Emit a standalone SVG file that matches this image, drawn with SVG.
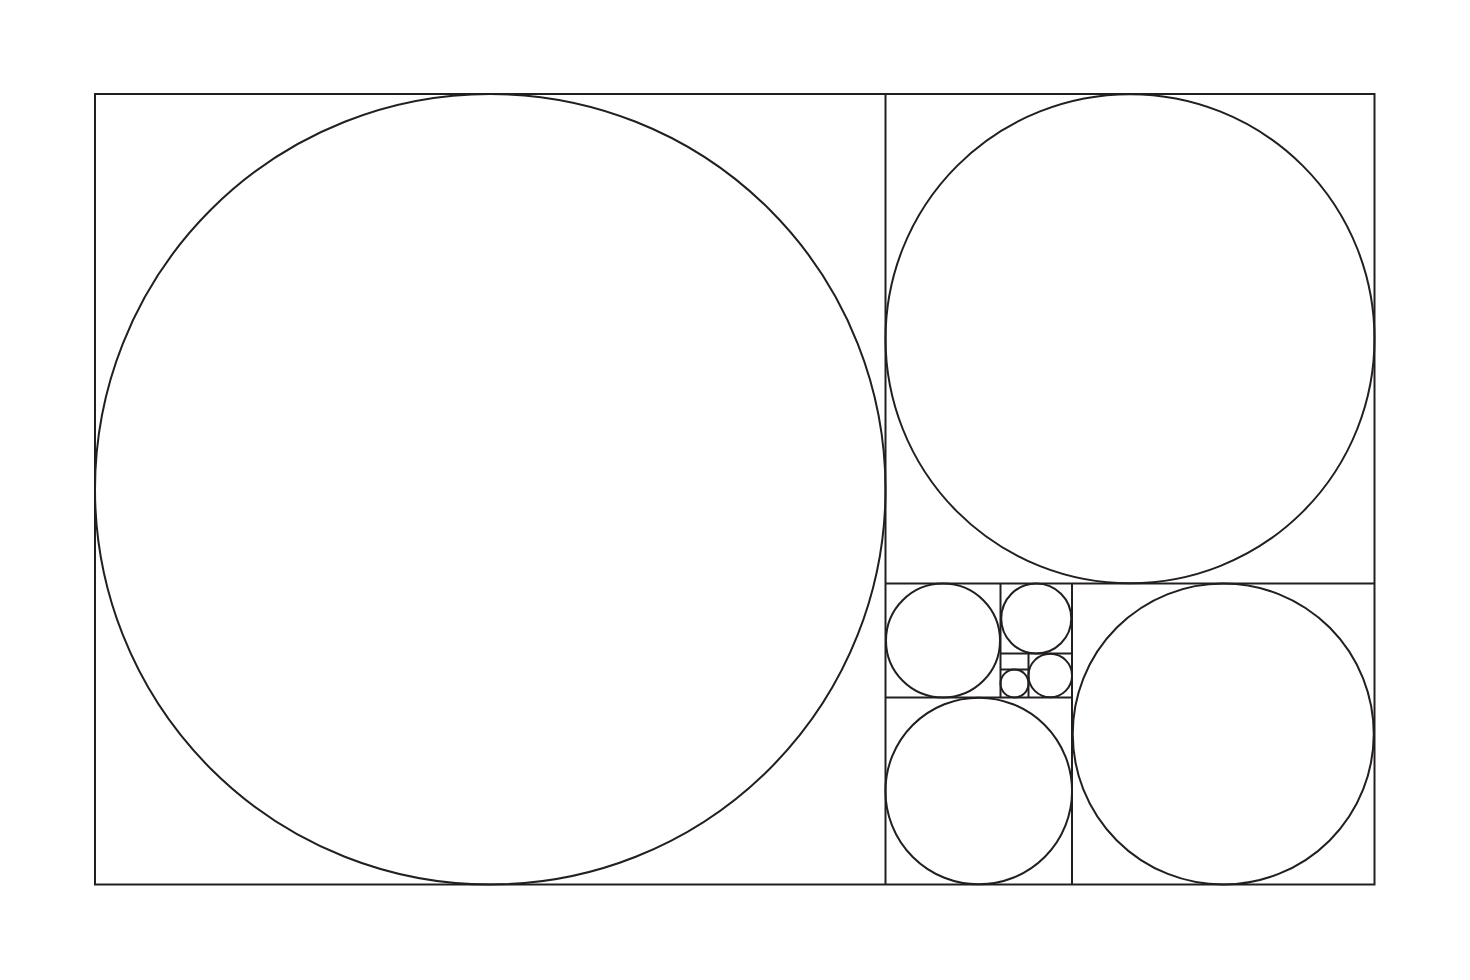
<svg xmlns="http://www.w3.org/2000/svg" width="1470" height="980" viewBox="0 0 1470 980">
<style>
.l{fill:none;stroke:#231f20;stroke-width:2}
</style>
<rect width="1470" height="980" fill="#ffffff"/>
<g id="grid" class="l">
<rect x="95" y="94" width="1279.5" height="790.5"/>
<line x1="885.5" y1="94" x2="885.5" y2="884.5"/>
<line x1="885.5" y1="583.5" x2="1374.5" y2="583.5"/>
<line x1="1072" y1="583.5" x2="1072" y2="884.5"/>
<line x1="885.5" y1="697.5" x2="1072" y2="697.5"/>
<line x1="1000.5" y1="583.5" x2="1000.5" y2="697.5"/>
<line x1="1000.5" y1="653.5" x2="1072" y2="653.5"/>
<line x1="1028.5" y1="653.5" x2="1028.5" y2="697.5"/>
<line x1="1000.5" y1="669.5" x2="1028.5" y2="669.5"/>
</g>
<g id="circles" class="l">
<circle cx="490.25" cy="489.25" r="395.25"/>
<circle cx="1130" cy="338.75" r="244.5"/>
<circle cx="1223.25" cy="734" r="150.5"/>
<circle cx="978.75" cy="791" r="93.3"/>
<circle cx="943" cy="640.5" r="57"/>
<circle cx="1036.25" cy="618.5" r="35"/>
<circle cx="1050.25" cy="675.5" r="21.8"/>
<circle cx="1014.5" cy="683.5" r="14"/>
</g>
</svg>
